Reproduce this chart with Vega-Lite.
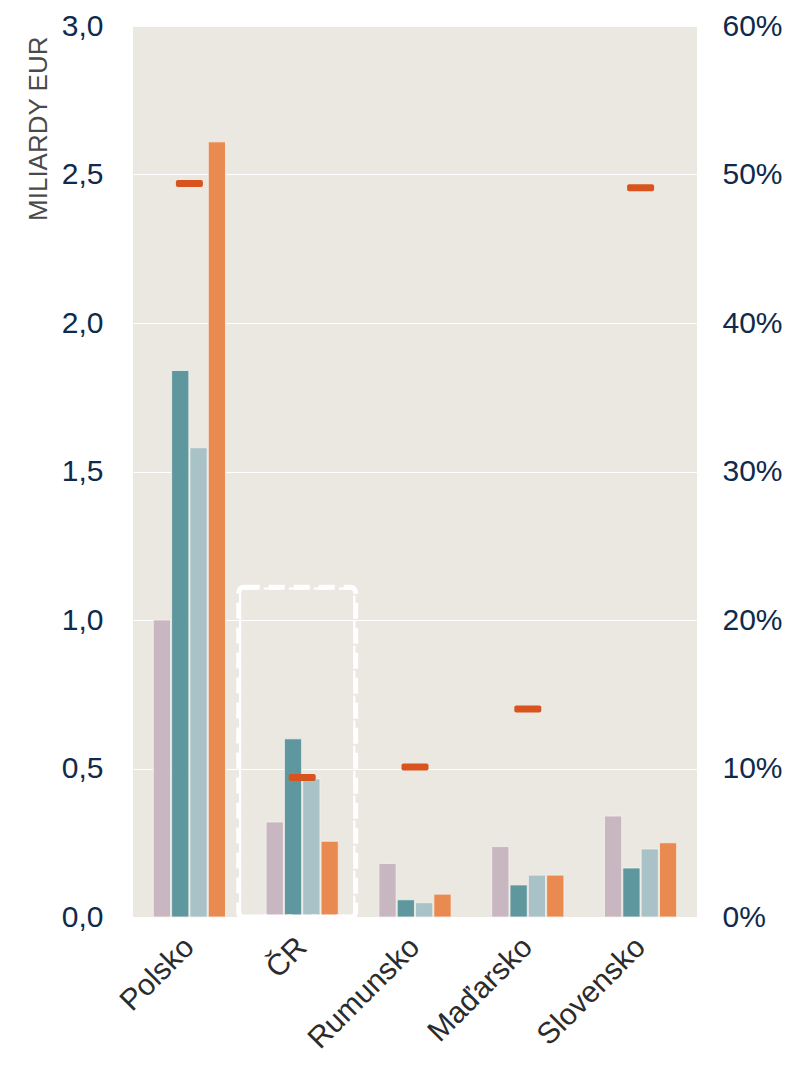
{
  "$schema": "https://vega.github.io/schema/vega-lite/v6.json",
  "width": 564,
  "height": 891,
  "autosize": {"type": "none"},
  "padding": {"left": 133, "top": 26, "right": 96, "bottom": 148},
  "background": "#ffffff",
  "config": {
    "view": {"fill": "#ebe7e1", "stroke": null},
    "font": "Liberation Sans",
    "axis": {"labelFont": "Liberation Sans", "titleFont": "Liberation Sans"}
  },
  "datasets": {
    "bars": [
      {"country": "Polsko", "series": "s1", "value": 1.0},
      {"country": "Polsko", "series": "s2", "value": 1.84},
      {"country": "Polsko", "series": "s3", "value": 1.58},
      {"country": "Polsko", "series": "s4", "value": 2.61},
      {"country": "ČR", "series": "s1", "value": 0.32},
      {"country": "ČR", "series": "s2", "value": 0.6},
      {"country": "ČR", "series": "s3", "value": 0.465},
      {"country": "ČR", "series": "s4", "value": 0.255},
      {"country": "Rumunsko", "series": "s1", "value": 0.18},
      {"country": "Rumunsko", "series": "s2", "value": 0.058},
      {"country": "Rumunsko", "series": "s3", "value": 0.048},
      {"country": "Rumunsko", "series": "s4", "value": 0.077},
      {"country": "Maďarsko", "series": "s1", "value": 0.237},
      {"country": "Maďarsko", "series": "s2", "value": 0.108},
      {"country": "Maďarsko", "series": "s3", "value": 0.141},
      {"country": "Maďarsko", "series": "s4", "value": 0.141},
      {"country": "Slovensko", "series": "s1", "value": 0.34},
      {"country": "Slovensko", "series": "s2", "value": 0.165},
      {"country": "Slovensko", "series": "s3", "value": 0.229},
      {"country": "Slovensko", "series": "s4", "value": 0.25}
    ],
    "share": [
      {"country": "Polsko", "pct": 0.494},
      {"country": "ČR", "pct": 0.094},
      {"country": "Rumunsko", "pct": 0.101},
      {"country": "Maďarsko", "pct": 0.14},
      {"country": "Slovensko", "pct": 0.491}
    ],
    "highlight": [
      {"country": "ČR", "top": 1.11}
    ]
  },
  "encoding": {
    "x": {
      "field": "country",
      "type": "nominal",
      "sort": ["Polsko", "ČR", "Rumunsko", "Maďarsko", "Slovensko"],
      "scale": {"paddingInner": 0.36, "paddingOuter": 0.18},
      "axis": {
        "title": null,
        "domain": false,
        "ticks": false,
        "labelAngle": -45,
        "labelAlign": "right",
        "labelBaseline": "middle",
        "labelFontSize": 30,
        "labelColor": "#2b2b2b",
        "labelPadding": 25
      }
    }
  },
  "layer": [
    {
      "data": {"name": "bars"},
      "mark": {"type": "bar", "stroke": "#f4f1ec", "strokeWidth": 0.8},
      "encoding": {
        "xOffset": {"field": "series", "type": "nominal", "scale": {"paddingInner": 0.06}},
        "y": {
          "field": "value",
          "type": "quantitative",
          "scale": {"domain": [0, 3]},
          "axis": {
            "title": "MILIARDY EUR",
            "titleFontSize": 26,
            "titleFontWeight": "normal",
            "titleColor": "#4a4a4a",
            "titleAngle": -90,
            "titleX": -95,
            "titleY": 10,
            "titleAlign": "right",
            "titleBaseline": "middle",
            "values": [0, 0.5, 1, 1.5, 2, 2.5, 3],
            "labelExpr": "replace(format(datum.value, '.1f'), '.', ',')",
            "labelFontSize": 30,
            "labelColor": "#0f2a4c",
            "labelPadding": 30,
            "ticks": false,
            "domain": false,
            "grid": true,
            "gridColor": "#ffffff",
            "gridWidth": 1.2
          }
        },
        "color": {
          "field": "series",
          "type": "nominal",
          "scale": {"domain": ["s1", "s2", "s3", "s4"], "range": ["#c8b6c1", "#5f979f", "#a8c2c8", "#e98a51"]},
          "legend": null
        }
      }
    },
    {
      "data": {"name": "highlight"},
      "mark": {
        "type": "bar",
        "fill": null,
        "fillOpacity": 0,
        "stroke": "#ffffff",
        "strokeWidth": 5,
        "strokeDash": [16, 9],
        "cornerRadius": 5,
        "width": {"band": 1.62},
        "xOffset": -5
      },
      "encoding": {
        "y": {"field": "top", "type": "quantitative", "scale": {"domain": [0, 3]}, "axis": null}
      }
    },
    {
      "data": {"name": "share"},
      "mark": {"type": "tick", "color": "#d9531e", "thickness": 7, "size": 27, "cornerRadius": 2, "opacity": 1},
      "encoding": {
        "y": {
          "field": "pct",
          "type": "quantitative",
          "scale": {"domain": [0, 0.6]},
          "axis": {
            "orient": "right",
            "title": null,
            "values": [0, 0.1, 0.2, 0.3, 0.4, 0.5, 0.6],
            "format": ".0%",
            "labelFontSize": 30,
            "labelColor": "#0f2a4c",
            "labelPadding": 25,
            "ticks": false,
            "domain": false,
            "grid": false
          }
        }
      }
    }
  ],
  "resolve": {"scale": {"y": "independent"}}
}
